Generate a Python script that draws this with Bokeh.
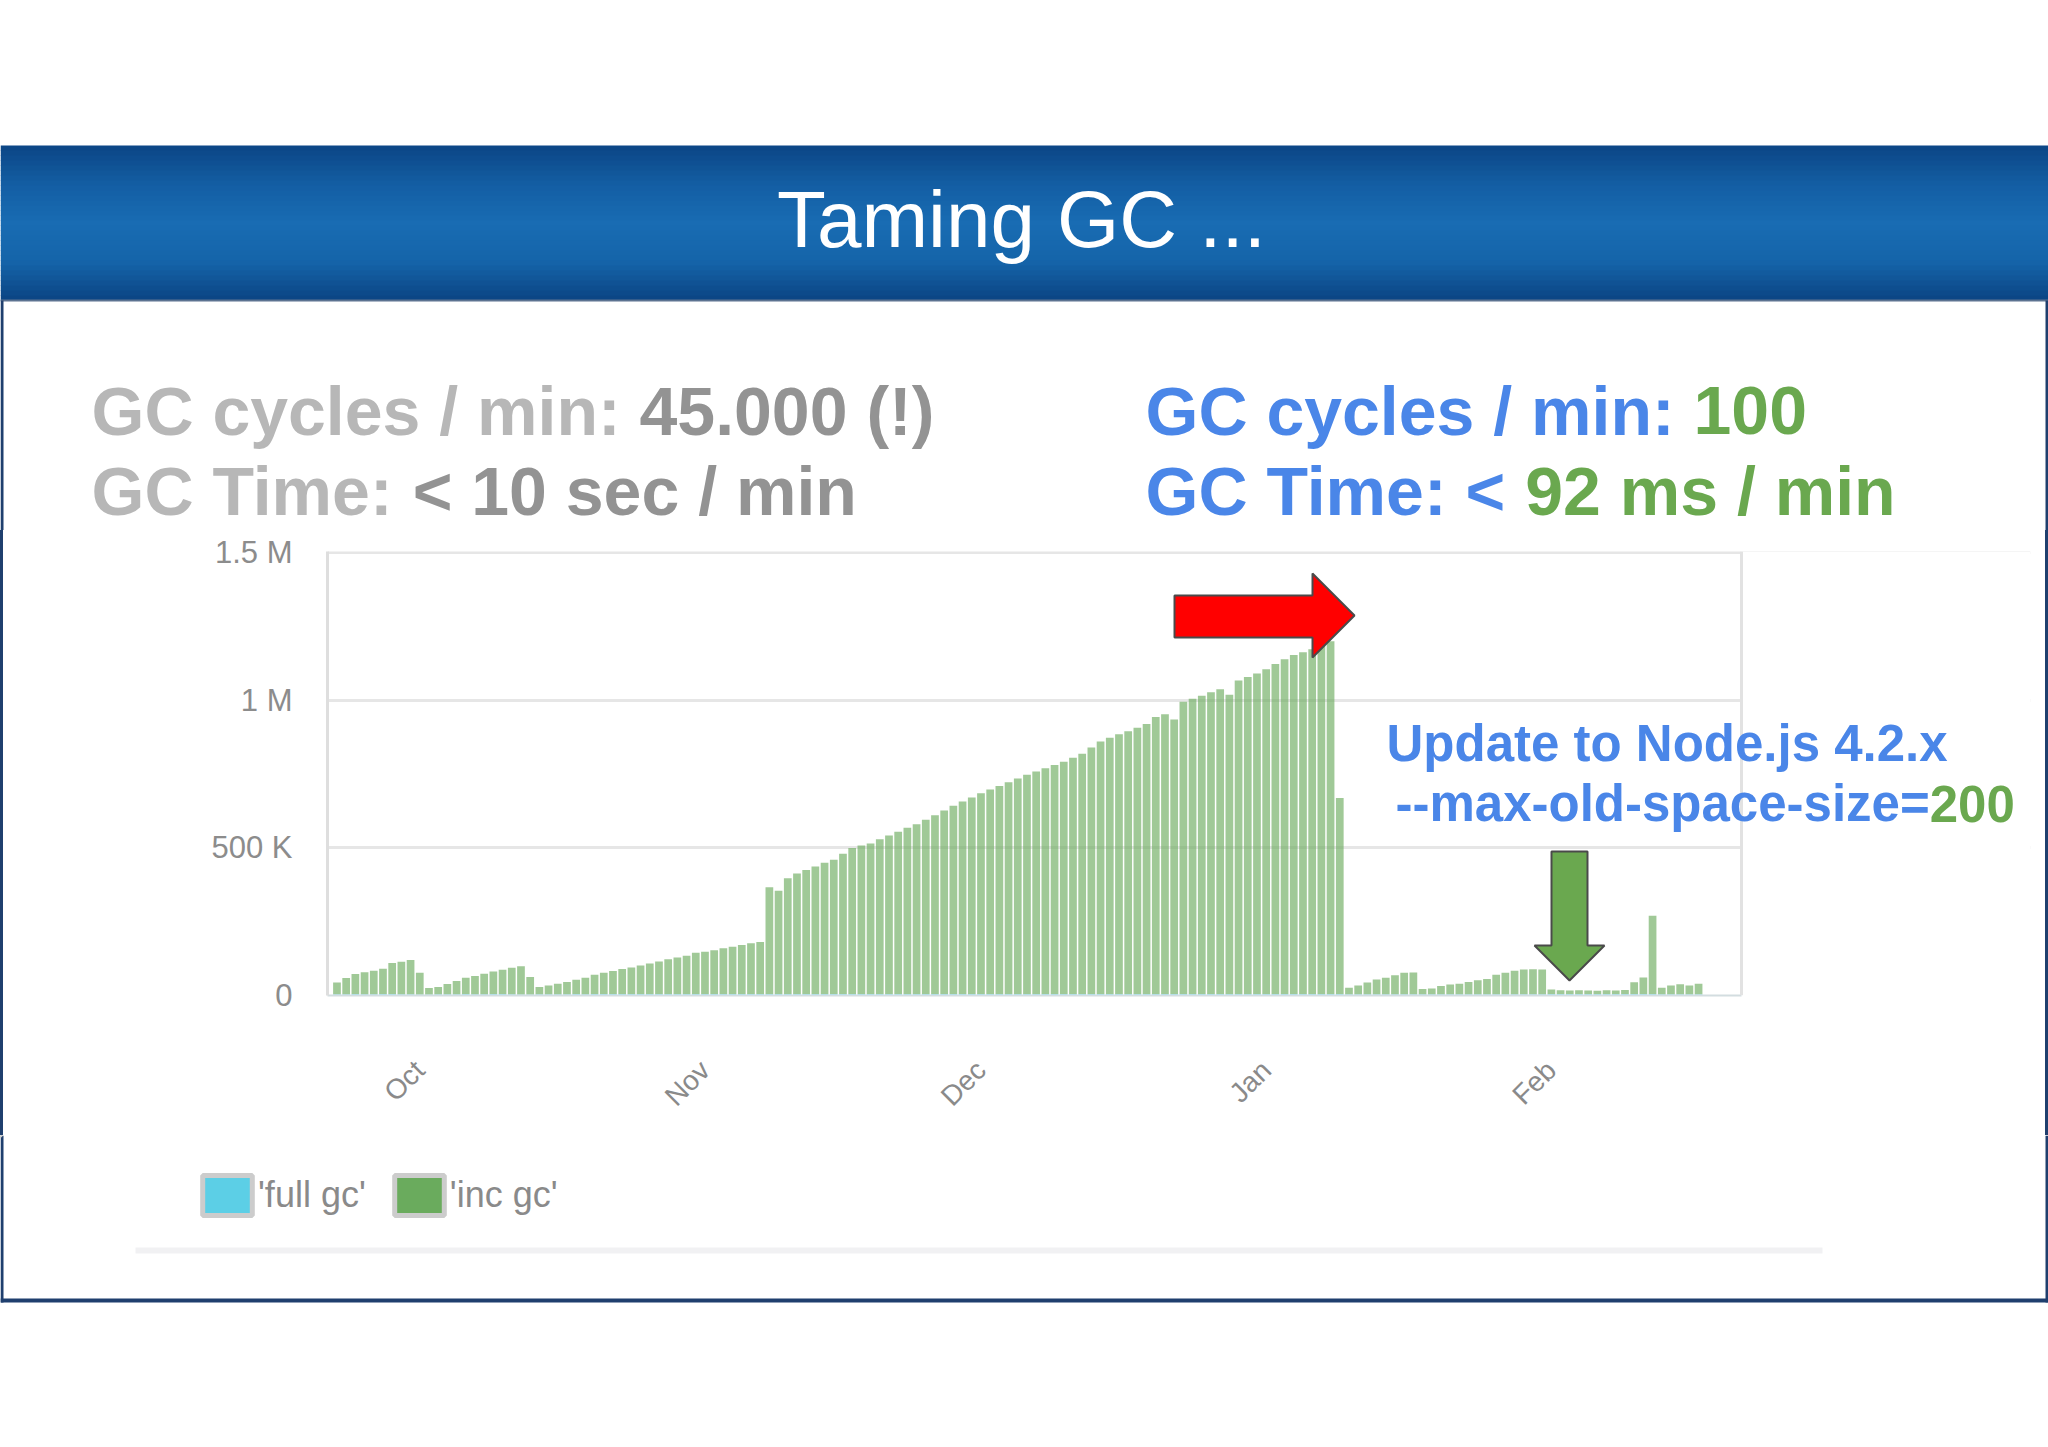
import math
from bokeh.plotting import figure
from bokeh.layouts import column, row
from bokeh.models import (Range1d, FixedTicker, Label, BoxAnnotation, PolyAnnotation, Span,
                          Legend, LegendItem, ColumnDataSource, Spacer)
from bokeh.core.properties import value
from bokeh.embed import file_html
from bokeh.resources import INLINE

# ---------------- data ----------------
days = list(range(149))
inc_gc = [40, 55, 68, 75, 80, 86, 105, 110, 116, 74,
          22, 25, 35, 45, 55, 62, 70, 76, 82, 90,
          96, 60, 25, 30, 36, 42, 48, 56, 65, 72,
          78, 85, 90, 97, 103, 110, 118, 124, 130, 140,
          143, 148, 155, 160, 166, 172, 176, 362, 350, 392,
          408, 420, 432, 445, 455, 475, 495, 503, 510, 524,
          537, 550, 563, 575, 590, 606, 622, 638, 652, 666,
          680, 693, 705, 717, 730, 743, 754, 765, 776, 787,
          800, 814, 835, 855, 868, 880, 890, 902, 915, 938,
          948, 930, 990, 1000, 1010, 1022, 1032, 1014, 1062, 1074,
          1086, 1100, 1118, 1134, 1148, 1158, 1168, 1180, 1195, 664,
          22, 30, 40, 50, 56, 65, 73, 74, 18, 20,
          28, 33, 36, 42, 48, 52, 66, 73, 80, 84,
          85, 84, 15, 13, 12, 13, 12, 11, 13, 12,
          14, 40, 56, 265, 22, 30, 34, 30, 36]
full_gc = [4, 4, 5, 4, 4, 5, 5, 4, 4, 3,
           3, 4, 4, 4, 5, 4, 4, 5, 5, 4,
           3, 3, 4, 4, 4, 4, 5, 4, 5, 5,
           5, 5, 5, 5, 5, 5, 5, 5, 5, 5,
           5, 5, 5, 5, 5, 5, 5, 5, 5, 5,
           5, 5, 5, 5, 5, 5, 5, 5, 5, 5,
           5, 5, 5, 5, 5, 5, 5, 5, 5, 5,
           5, 5, 5, 5, 5, 5, 5, 5, 5, 5,
           5, 5, 5, 5, 5, 5, 5, 5, 5, 5,
           5, 5, 5, 5, 5, 5, 5, 5, 5, 5,
           5, 5, 5, 5, 5, 5, 5, 5, 5, 5,
           4, 4, 4, 4, 4, 4, 4, 4, 4, 4,
           4, 4, 4, 4, 4, 4, 4, 4, 4, 4,
           4, 4, 5, 5, 5, 5, 5, 5, 5, 5,
           5, 5, 5, 5, 4, 4, 4, 4, 4]
series_names = ["'full gc'", "'inc gc'"]
series_colors = ["#5ccfe6", "#6aab5d"]
month_ticks = [9, 40, 70, 101, 132]
month_labels = ["Oct", "Nov", "Dec", "Jan", "Feb"]
y_ticks = [0, 500, 1000, 1500]
y_labels = ["0", "500 K", "1 M", "1.5 M"]

# ---------------- page geometry (page px; the page has no body margin) ----------------
W, H = 2048, 1447
TOP_H = 530               # page y 0 .. 530
CH_TOP, CH_BOT = 530, 1135
BOT_H = H - CH_BOT        # page y 1135 .. 1447
STRIP = 3
FL, FB, FT = 327, 995, 551
FR_VIS = 1741             # visible right edge of the chart box
FR = 2030                 # frame right (wider, so the note text is not clipped)
PX_PER_DAY = 9.2
X0 = -1.03
XR = X0 + (FR_VIS - FL) / PX_PER_DAY
NAVY = "#1f3f6e"
FONT = "Liberation Sans"
MID = 0.3465              # baseline -> vertical middle of the text box, in em

BOLD_W = {' ': 278, '!': 333, '(': 333, ')': 333, '.': 278, '/': 278, ':': 333, '<': 584,
          '=': 584, '-': 333, 'G': 778, 'C': 722, 'T': 611, 'U': 722, 'N': 722,
          'a': 556, 'c': 556, 'd': 611, 'e': 556, 'i': 278, 'j': 278, 'l': 278, 'm': 889,
          'n': 611, 'o': 611, 'p': 611, 's': 556, 't': 333, 'x': 556, 'y': 556, 'z': 500,
          'g': 611, 'r': 389}
for _d in "0123456789":
    BOLD_W[_d] = 556


def tw(s, size):
    return sum(BOLD_W.get(c, 556) for c in s) / 1000.0 * size


def canvas_fig(height, y_top, y_bot):
    f = figure(width=W, height=height, output_backend="svg", toolbar_location=None,
               x_range=Range1d(0, W), y_range=Range1d(y_bot, y_top),
               x_axis_location=None, y_axis_location=None, min_border=0)
    f.min_border_left = f.min_border_right = f.min_border_top = f.min_border_bottom = 0
    f.grid.grid_line_color = None
    f.outline_line_color = None
    f.background_fill_color = "white"
    f.border_fill_color = "white"
    return f


def rect(f, l, r, t, b, color):
    f.quad(left=[l], right=[r], top=[t], bottom=[b], fill_color=color, line_color=None)


# ================= top part: header band + headline texts =================
top = canvas_fig(TOP_H, 0, CH_TOP)


def hex2rgb(h):
    return tuple(int(h[i:i + 2], 16) for i in (1, 3, 5))


stops = [(0.0, "#0c4585"), (0.25, "#135ea3"), (0.5, "#196cb3"), (0.75, "#1564a9"), (1.0, "#0b4482")]


def grad(t):
    for (t0, c0), (t1, c1) in zip(stops[:-1], stops[1:]):
        if t0 <= t <= t1:
            a = (t - t0) / (t1 - t0)
            r0, g0, b0 = hex2rgb(c0)
            r1, g1, b1 = hex2rgb(c1)
            return "#%02x%02x%02x" % (round(r0 + (r1 - r0) * a), round(g0 + (g1 - g0) * a),
                                      round(b0 + (b1 - b0) * a))
    return stops[-1][1]


BAND_T, BAND_B = 145, 300
n = 31
step = (BAND_B - BAND_T) / n
for i in range(n):
    t = BAND_T + i * step
    rect(top, 0, W, t, t + step + 0.6, grad((i + 0.5) / n))
rect(top, 0, W, 299, 301, "#5d7391")
rect(top, 0, STRIP, 300, CH_TOP, NAVY)
rect(top, W - STRIP, W, 300, CH_TOP, NAVY)

top.text(x=[1021], y=[247 - MID * 80], text=["Taming GC ..."], text_font=value(FONT),
         text_font_size=value("80px"), text_color="white",
         text_align=value("center"), text_baseline=value("middle"))


def rich_line_glyph(f, x0, baseline, size, parts):
    x = x0
    for txt, color in parts:
        f.text(x=[x], y=[baseline - MID * size], text=[txt.rstrip()], text_font=value(FONT),
               text_font_size=value("%dpx" % size), text_font_style=value("bold"),
               text_color=color, text_align=value("left"), text_baseline=value("middle"))
        x += tw(txt, size)


LIGHT, DARK = "#b7b7b7", "#939393"
BLUE, GREEN = "#4a86e8", "#6aa84f"
rich_line_glyph(top, 91, 434, 68, [("GC cycles / min: ", LIGHT), ("45.000 (!)", DARK)])
rich_line_glyph(top, 91, 514, 68, [("GC Time: ", LIGHT), ("< 10 sec / min", DARK)])
rich_line_glyph(top, 1145, 434, 68, [("GC cycles / min: ", BLUE), ("100", GREEN)])
rich_line_glyph(top, 1145, 514, 68, [("GC Time: < ", BLUE), ("92 ms / min", GREEN)])

# ================= chart =================
CW = W - 2 * STRIP
CH_H = CH_BOT - CH_TOP
cx0 = STRIP  # page x of chart canvas left
p = figure(width=CW, height=CH_H, output_backend="svg", toolbar_location=None,
           x_range=Range1d(X0, X0 + (FR - FL) / PX_PER_DAY), y_range=Range1d(0, 1504),
           min_border_left=FL - cx0, min_border_right=(cx0 + CW) - FR,
           min_border_top=FT - CH_TOP, min_border_bottom=CH_BOT - FB)
p.background_fill_color = "white"
p.border_fill_color = "white"
p.outline_line_color = None

src = ColumnDataSource(dict(day=days, full=full_gc, inc=inc_gc))
p.vbar_stack(["full", "inc"], x="day", width=0.84, source=src,
             fill_color=series_colors, fill_alpha=0.64, line_color=None)

p.xaxis.ticker = FixedTicker(ticks=month_ticks)
p.xaxis.major_label_overrides = dict(zip(month_ticks, month_labels))
p.xaxis.major_label_orientation = math.pi / 4
p.xaxis.major_label_standoff = 70
p.xaxis.major_label_text_font = FONT
p.xaxis.major_label_text_font_size = "28px"
p.xaxis.major_label_text_color = "#8a8a8a"
p.xaxis.axis_line_color = "#d3dde0"
p.xaxis.axis_line_width = 2
p.xaxis.bounds = (X0, XR)

p.yaxis.ticker = FixedTicker(ticks=y_ticks)
p.yaxis.major_label_overrides = dict(zip(y_ticks, y_labels))
p.yaxis.major_label_standoff = 35
p.yaxis.major_label_text_font = FONT
p.yaxis.major_label_text_font_size = "31px"
p.yaxis.major_label_text_color = "#8c8c8c"
p.yaxis.axis_line_color = "#dedede"
p.yaxis.axis_line_width = 3

for ax in (p.xaxis, p.yaxis):
    ax.major_tick_line_color = None
    ax.minor_tick_line_color = None
    ax.major_tick_out = 0
    ax.major_tick_in = 0

p.xgrid.grid_line_color = None
p.ygrid.grid_line_color = "#e6e6e6"
p.ygrid.grid_line_width = 3

# blank out the area right of the visible chart box, then draw its right border
p.add_layout(BoxAnnotation(left=XR, fill_color="white", fill_alpha=1.0, line_color=None, line_alpha=0))
p.add_layout(Span(location=XR, dimension="height", line_color="#e2e2e2", line_width=3))


def sx(px):
    return px - FL


def sy(py):
    return FB - py


def rich_line_label(x0, baseline, size, parts):
    x = x0
    for txt, color in parts:
        p.add_layout(Label(x=sx(x), y=sy(baseline - MID * size), x_units="screen", y_units="screen",
                           text=txt.rstrip(), text_font=FONT, text_font_size="%dpx" % size,
                           text_font_style="bold", text_color=color,
                           text_align="left", text_baseline="middle"))
        x += tw(txt, size)


rich_line_label(1386, 761, 51, [("Update to Node.js 4.2.x", BLUE)])
rich_line_label(1395, 821, 51, [("--max-old-space-size=", BLUE), ("200", GREEN)])

red_pts = [(1174, 595), (1312, 595), (1312, 573), (1354, 615), (1312, 657), (1312, 637), (1174, 637)]
green_pts = [(1551, 851), (1587, 851), (1587, 945), (1604, 945), (1569, 980), (1534, 945), (1551, 945)]
for pts, col in ((red_pts, "#ff0000"), (green_pts, "#6aa84f")):
    p.add_layout(PolyAnnotation(xs=[sx(a) for a, _ in pts], ys=[sy(b) for _, b in pts],
                                xs_units="screen", ys_units="screen",
                                fill_color=col, fill_alpha=1.0,
                                line_color="#4a4a4a", line_width=2, line_alpha=1.0))

left_strip = Spacer(width=STRIP, height=CH_H, styles={"background-color": NAVY})
right_strip = Spacer(width=STRIP, height=CH_H, styles={"background-color": NAVY})

# ================= bottom part: legend + slide frame =================
bot = canvas_fig(BOT_H, CH_BOT, H)
rect(bot, 0, STRIP, CH_BOT, 1302, NAVY)
rect(bot, W - STRIP, W, CH_BOT, 1302, NAVY)
rect(bot, 0, W, 1298, 1302, NAVY)
rect(bot, 135, 1822, 1247, 1253, "#f1f1f3")

# legend swatches (zero-height proxies far outside the visible range)
proxy_full = bot.vbar(x=[-5000], top=[0], width=1, fill_color=series_colors[0], line_color="#cccccc", line_width=5)
proxy_inc = bot.vbar(x=[-5000], top=[0], width=1, fill_color=series_colors[1], line_color="#cccccc", line_width=5)
legend = Legend(items=[LegendItem(label=series_names[0], renderers=[proxy_full]),
                       LegendItem(label=series_names[1], renderers=[proxy_inc])],
                location=(196, H - 1220), orientation="horizontal",
                glyph_width=62, glyph_height=50, label_standoff=0, spacing=22,
                padding=0, margin=0, border_line_color=None, background_fill_alpha=0,
                label_text_font=FONT, label_text_font_size="36px", label_text_color="#8a8a8a")
bot.add_layout(legend)

page = column(top, row(left_strip, p, right_strip, spacing=0), bot, spacing=0)
open("out.html", "w").write(file_html(page, INLINE))
